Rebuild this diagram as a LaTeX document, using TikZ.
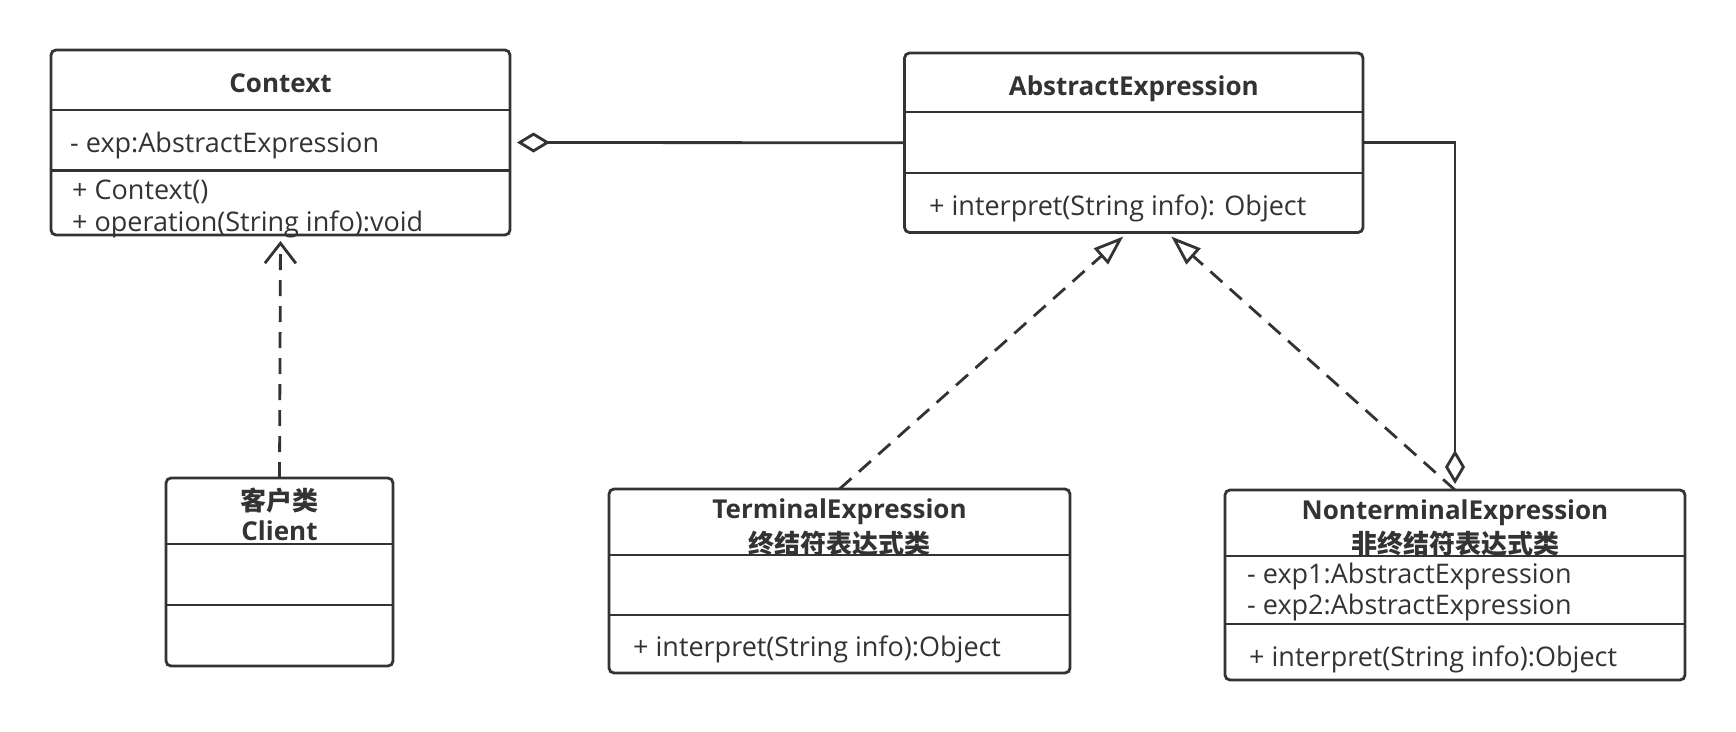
\documentclass[tikz,border=0pt]{standalone}
\usepackage{fontspec}
\setmainfont{Open Sans}
\newfontfamily\cjk{Noto Sans CJK SC}
\usetikzlibrary{arrows.meta}
\definecolor{ink}{HTML}{333333}
\begin{document}
\begin{tikzpicture}[x=1pt,y=-1pt,
  box/.style={draw=ink, line width=2.8pt, rounded corners=5pt, fill=white, inner sep=0pt, outer sep=0pt, anchor=north west},
  sep/.style={draw=ink, line width=2.8pt},
  txt/.style={text=ink, inner sep=0pt, text height=22pt, text depth=2pt},
  title/.style={txt, font=\fontsize{26}{30}\selectfont\bfseries},
  ctitle/.style={txt, font=\fontsize{26}{30}\selectfont\cjk\bfseries},
  member/.style={txt, font=\fontsize{27}{31}\selectfont, anchor=west},
  link/.style={draw=ink, line width=2.8pt},
  dashline/.style={link, dash pattern=on 16pt off 10pt},
]
\useasboundingbox (0,0) rectangle (1736,731);
\fill[white] (0,0) rectangle (1736,731);

% boxes
\node[box, minimum width=459pt, minimum height=185pt] (ctx) at (51,50) {};
\node[box, minimum width=458.5pt, minimum height=179.5pt] (ae) at (904.5,53) {};
\node[box, minimum width=227pt, minimum height=188pt] (client) at (166,478) {};
\node[box, minimum width=461pt, minimum height=184pt] (te) at (609,489) {};
\node[box, minimum width=460pt, minimum height=190pt] (ne) at (1225,490) {};

% texts
\node[title] (ctxT) at (280.5,82) {Context};
\node[member] (ctxA) at (70,142) {- exp:AbstractExpression};
\node[member] (ctxM1) at (72,189) {+ Context()};
\node[member] (ctxM2) at (72,221) {+ operation(String info):void};

\node[title] (aeT) at (1133.75,85) {AbstractExpression};
\node[member] (aeM) at (929,205) {+ interpret(String info): Object};

\node[ctitle] (clT1) at (279.5,500) {客户类};
\node[title] (clT2) at (279.5,530) {Client};

\node[title] (teT1) at (839.5,508) {TerminalExpression};
\node[ctitle] (teT2) at (839.5,543) {终结符表达式类};
\node[member] (teM) at (633,646.5) {+ interpret(String info):Object};

\node[title] (neT1) at (1455,509) {NonterminalExpression};
\node[ctitle] (neT2) at (1455,543) {非终结符表达式类};
\node[member] (neA1) at (1247,573.5) {- exp1:AbstractExpression};
\node[member] (neA2) at (1247,604.5) {- exp2:AbstractExpression};
\node[member] (neM) at (1249,656.5) {+ interpret(String info):Object};

% dividers
\draw[sep] (ctx.west |- 0,110) -- (ctx.east |- 0,110);
\draw[sep] (ctx.west |- 0,170.5) -- (ctx.east |- 0,170.5);
\draw[sep] (ae.west |- 0,112) -- (ae.east |- 0,112);
\draw[sep] (ae.west |- 0,173) -- (ae.east |- 0,173);
\draw[sep] (client.west |- 0,544) -- (client.east |- 0,544);
\draw[sep] (client.west |- 0,605) -- (client.east |- 0,605);
\draw[sep] (te.west |- 0,555) -- (te.east |- 0,555);
\draw[sep] (te.west |- 0,615) -- (te.east |- 0,615);
\draw[sep] (ne.west |- 0,556) -- (ne.east |- 0,556);
\draw[sep] (ne.west |- 0,624) -- (ne.east |- 0,624);

% connectors
\path (ae.south) ++(-6,0) coordinate (aeL);
\path (ae.south) ++(33,0) coordinate (aeR);

\draw[link, -{Diamond[open, length=33pt, width=20pt]}, shorten >=7pt] (ae.west) -- (ctx.east);
\draw[link, -{Diamond[open, length=34pt, width=20pt]}, shorten >=6pt] (ae.east) -| (ne.north);
\draw[dashline, -{Straight Barb[length=20pt, width=31pt]}, shorten >=6pt] (client.north) -- (ctx.south);
\draw[dashline, -{Triangle[open, length=30pt, width=21pt]}, shorten >=6pt] (te.north) -- (aeL);
\draw[dashline, -{Triangle[open, length=30pt, width=21pt]}, shorten >=6pt] (ne.north) -- (aeR);
\end{tikzpicture}
\end{document}
